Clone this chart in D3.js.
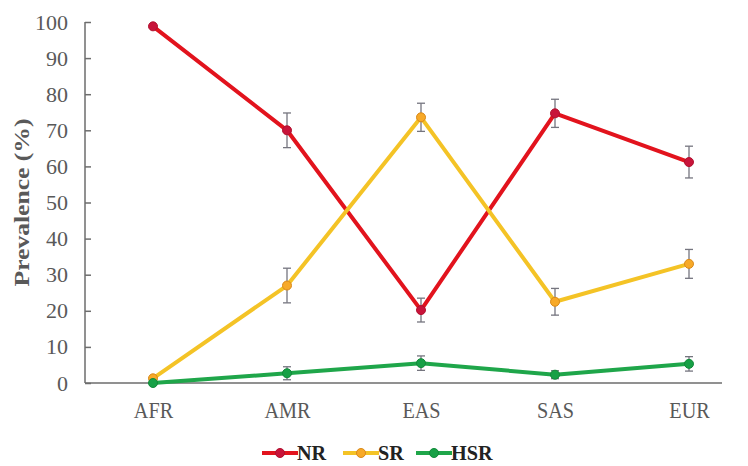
<!DOCTYPE html>
<meta charset="utf-8">
<style>
  body { margin: 0; background: #fff; }
  svg text { font-family: "Liberation Serif", "Times New Roman", Times, serif !important; }
</style>
<body>
<script src="https://cdn.jsdelivr.net/npm/d3@7"></script>
<script>
  // values
  var regions = ["AFR", "AMR", "EAS", "SAS", "EUR"];
  var nrVals = [98.8, 70.0, 20.2, 74.7, 61.2];
  var nrErr  = [0, 4.8, 3.3, 3.9, 4.4];
  var srVals = [1.3, 27.0, 73.6, 22.5, 33.0];
  var srErr  = [0, 4.8, 3.9, 3.7, 4.0];
  var hsrVals = [0, 2.7, 5.5, 2.3, 5.3];
  var hsrErr  = [0, 1.8, 2.0, 1.1, 2.0];
  var yTicks = [0, 10, 20, 30, 40, 50, 60, 70, 80, 90, 100];

  var width = 748, height = 466;

  var series = [
    {name: "NR", vals: nrVals, err: nrErr, line: "#e2131d", dot: "#c8143a", edge: "#b0102e"},
    {name: "SR", vals: srVals, err: srErr, line: "#f4c326", dot: "#f7a928", edge: "#d9891a"},
    {name: "HSR", vals: hsrVals, err: hsrErr, line: "#1fa64a", dot: "#17a046", edge: "#128a3a"}
  ];

  var svg = d3.select("body").append("svg")
    .attr("width", width)
    .attr("height", height);

  var x = d3.scalePoint()
    .domain(regions)
    .range([153, 689]);

  var y = d3.scaleLinear()
    .domain([0, 100])
    .range([383, 22]);

  // y axis
  var yAxis = svg.append("g")
    .attr("transform", "translate(85,0)")
    .call(d3.axisRight(y).tickValues(yTicks).tickSize(6).tickFormat(d3.format("d")));
  yAxis.select(".domain").remove();
  yAxis.selectAll("line").attr("stroke", "#6d6d6d").attr("stroke-width", 1.5);
  yAxis.selectAll("text")
    .attr("x", -17)
    .attr("text-anchor", "end")
    .attr("fill", "#595959")
    .style("font-size", "22px");
  svg.append("line")
    .attr("x1", 85).attr("x2", 85)
    .attr("y1", y(100)).attr("y2", y(0))
    .attr("stroke", "#6d6d6d").attr("stroke-width", 1.5);

  // x axis
  var xAxis = svg.append("g")
    .attr("transform", "translate(0," + y(0) + ")")
    .call(d3.axisBottom(x).tickSize(0).tickPadding(19));
  xAxis.select(".domain").remove();
  xAxis.selectAll("text")
    .attr("fill", "#595959")
    .attr("transform", "scale(0.88,1)")
    .style("font-size", "23px");
  svg.append("line")
    .attr("x1", 85).attr("x2", 722)
    .attr("y1", y(0)).attr("y2", y(0))
    .attr("stroke", "#6d6d6d").attr("stroke-width", 1.5);

  svg.append("text")
    .attr("transform", "translate(29," + y(50) + ") rotate(-90)")
    .attr("text-anchor", "middle")
    .attr("fill", "#595959")
    .attr("textLength", 168)
    .attr("lengthAdjust", "spacingAndGlyphs")
    .style("font-size", "21px")
    .style("font-weight", "bold")
    .text("Prevalence (%)");

  var line = d3.line()
    .x(function(d, i) { return x(regions[i]); })
    .y(function(d) { return y(d); });

  series.forEach(function(s) {
    svg.append("path")
      .datum(s.vals)
      .attr("fill", "none")
      .attr("stroke", s.line)
      .attr("stroke-width", 4)
      .attr("stroke-linejoin", "round")
      .attr("d", line);
  });

  series.forEach(function(s) {
    var g = svg.append("g");
    s.vals.forEach(function(v, i) {
      var cx = x(regions[i]);
      if (s.err[i] > 0) {
        g.append("line")
          .attr("x1", cx).attr("x2", cx)
          .attr("y1", y(v + s.err[i])).attr("y2", y(v - s.err[i]))
          .attr("stroke", "#75757f").attr("stroke-width", 1.3);
        [v + s.err[i], v - s.err[i]].forEach(function(e) {
          g.append("line")
            .attr("x1", cx - 4).attr("x2", cx + 4)
            .attr("y1", y(e)).attr("y2", y(e))
            .attr("stroke", "#75757f").attr("stroke-width", 1.3);
        });
      }
      g.append("circle")
        .attr("cx", cx).attr("cy", y(v))
        .attr("r", 4.5)
        .attr("fill", s.dot)
        .attr("stroke", s.edge)
        .attr("stroke-width", 1);
    });
  });

  // legend
  var legendX = [262, 343, 416];
  var legendY = 453;
  series.forEach(function(s, i) {
    var lg = svg.append("g").attr("transform", "translate(" + legendX[i] + "," + legendY + ")");
    lg.append("line")
      .attr("x1", 0).attr("x2", 36)
      .attr("stroke", s.line).attr("stroke-width", 4);
    lg.append("circle")
      .attr("cx", 18).attr("r", 4.5)
      .attr("fill", s.dot).attr("stroke", s.edge);
    lg.append("text")
      .attr("x", 38).attr("y", 7)
      .attr("fill", "#222")
      .attr("transform", "scale(0.92,1)")
      .style("font-size", "22px")
      .style("font-weight", "bold")
      .text(s.name);
  });
</script>
</body>
